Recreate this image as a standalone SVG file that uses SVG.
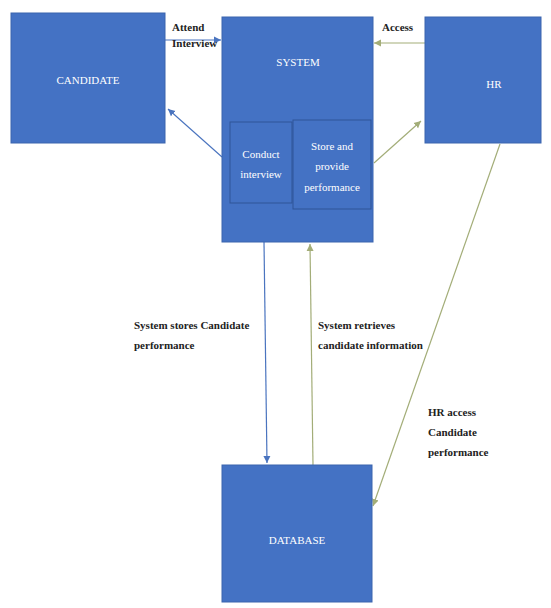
<svg xmlns="http://www.w3.org/2000/svg" width="551" height="608" viewBox="0 0 551 608">
<style>
.box{fill:#4472C4;stroke:#3A64AE;stroke-width:1}
.inner{fill:#4472C4;stroke:#2F5597;stroke-width:1}
.bt{font-family:"Liberation Serif",serif;font-size:11px;fill:#FFFFFF;text-anchor:middle}
.lb{font-family:"Liberation Serif",serif;font-size:11px;font-weight:bold;fill:#222222}
.blue{stroke:#4A74BF;stroke-width:1.2;fill:none;marker-end:url(#ab)}
.green{stroke:#A3AD78;stroke-width:1.2;fill:none;marker-end:url(#ag)}
</style>
<defs>
<marker id="ab" markerWidth="8" markerHeight="8" refX="7" refY="4" orient="auto" markerUnits="userSpaceOnUse">
<path d="M0,0.5 L7,4 L0,7.5 z" fill="#4A74BF"/>
</marker>
<marker id="ag" markerWidth="8" markerHeight="8" refX="7" refY="4" orient="auto" markerUnits="userSpaceOnUse">
<path d="M0,0.5 L7,4 L0,7.5 z" fill="#A3AD78"/>
</marker>
</defs>
<rect width="551" height="608" fill="#FFFFFF"/>
<g id="connectors">
<line class="blue" x1="165" y1="40" x2="221" y2="40"/>
<line class="blue" x1="222" y1="157" x2="168" y2="109"/>
<line class="green" x1="425" y1="43" x2="374" y2="43"/>
<line class="green" x1="374" y1="163" x2="421" y2="121"/>
<line class="blue" x1="264" y1="242" x2="267" y2="463"/>
<line class="green" x1="313" y1="465" x2="310" y2="244"/>
<line class="green" x1="500" y1="144" x2="373" y2="506"/>
</g>
<g id="labels">
<text class="lb" x="172" y="31">Attend</text>
<text class="lb" x="172" y="47">Interview</text>
<text class="lb" x="382" y="31">Access</text>
<text class="lb" x="134" y="329">System stores Candidate</text>
<text class="lb" x="134" y="349">performance</text>
<text class="lb" x="318" y="329">System retrieves</text>
<text class="lb" x="318" y="349">candidate information</text>
<text class="lb" x="428" y="416">HR access</text>
<text class="lb" x="428" y="436">Candidate</text>
<text class="lb" x="428" y="456">performance</text>
</g>
<g id="candidate">
<rect class="box" x="11" y="13" width="154" height="130"/>
<text class="bt" x="88" y="84">CANDIDATE</text>
</g>
<g id="system">
<rect class="box" x="222" y="17" width="151" height="225"/>
<text class="bt" x="298" y="66">SYSTEM</text>
</g>
<g id="conduct-interview">
<rect class="inner" x="230" y="122" width="62" height="81"/>
<text class="bt" x="261" y="158">Conduct</text>
<text class="bt" x="261" y="178">interview</text>
</g>
<g id="store-performance">
<rect class="inner" x="293" y="120" width="78" height="89"/>
<text class="bt" x="332" y="150">Store and</text>
<text class="bt" x="332" y="170">provide</text>
<text class="bt" x="332" y="191">performance</text>
</g>
<g id="hr">
<rect class="box" x="425" y="17" width="116" height="126"/>
<text class="bt" x="494" y="88">HR</text>
</g>
<g id="database">
<rect class="box" x="222" y="465" width="150" height="137"/>
<text class="bt" x="297" y="544">DATABASE</text>
</g>
</svg>
